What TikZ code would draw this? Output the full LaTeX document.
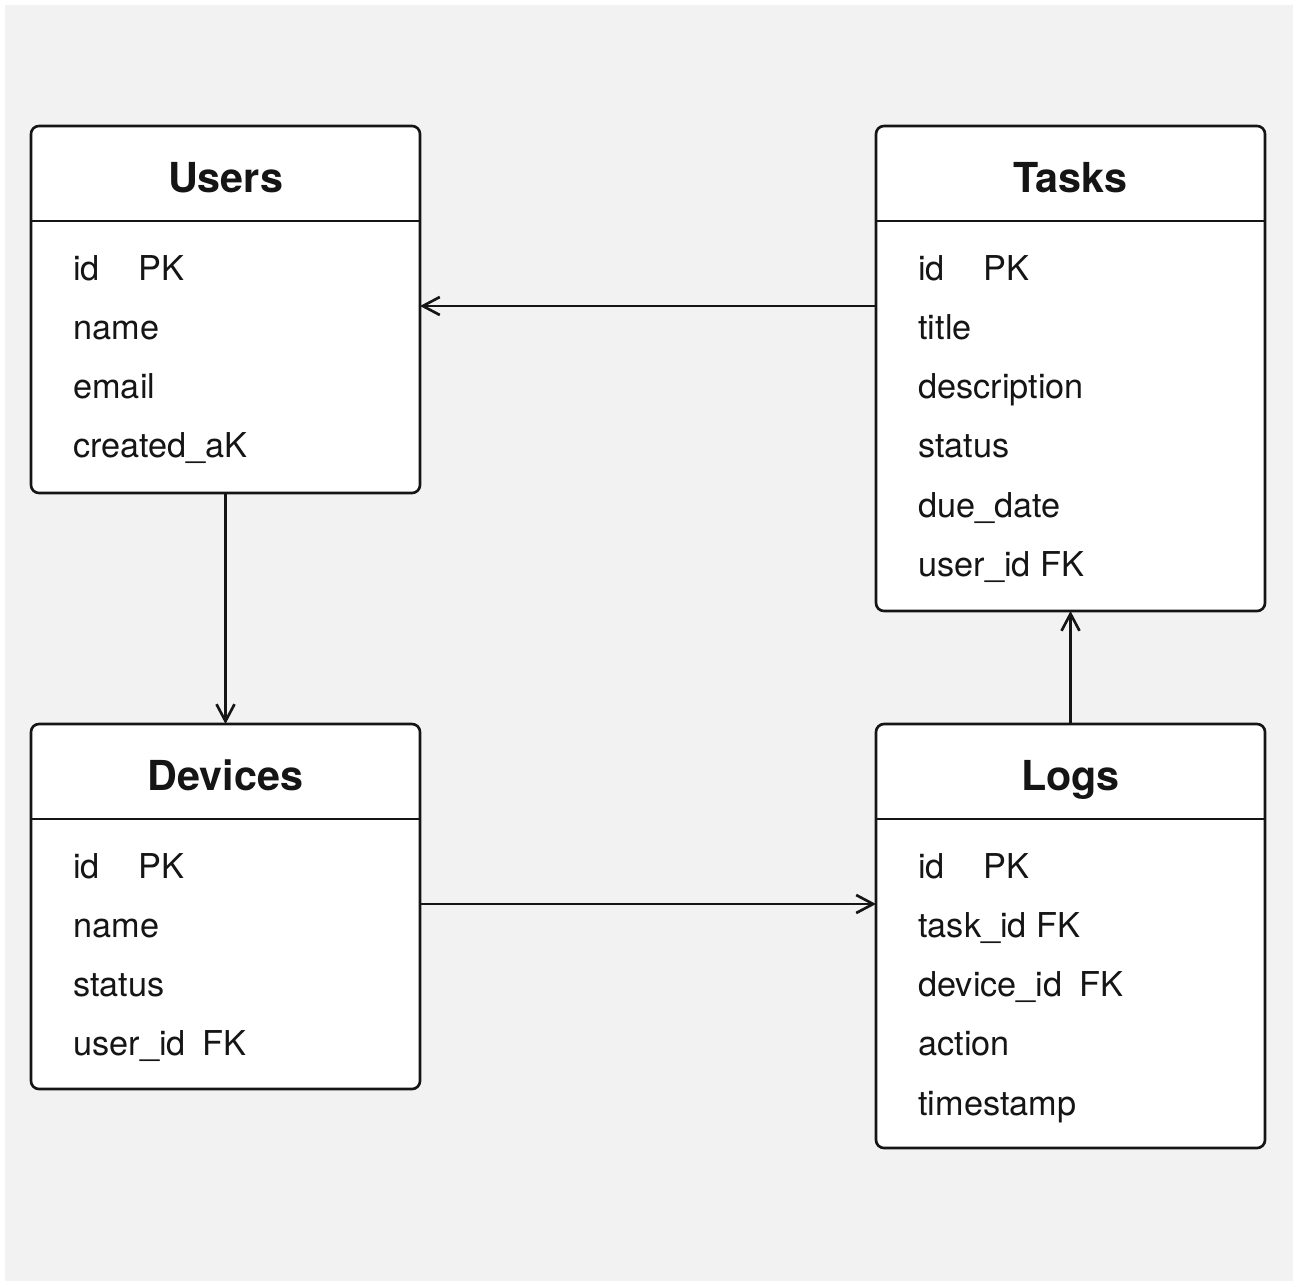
\documentclass[tikz,border=0pt]{standalone}
\usepackage{fontspec}
\setmainfont{TeX Gyre Heros}
\usepackage{tikz}
\usetikzlibrary{arrows.meta,positioning,calc}
\definecolor{inkblack}{HTML}{151515}
\definecolor{paper}{HTML}{F2F2F2}

\begin{document}
\begin{tikzpicture}[
  tbl/.style={draw=inkblack,fill=white,rounded corners=0.16cm,line width=1.5pt,
              minimum width=7.78cm,anchor=north west,inner sep=0pt,outer sep=0pt},
  hd/.style={font=\fontsize{23.5}{28}\selectfont\bfseries,text=inkblack,anchor=base,inner sep=0pt},
  fld/.style={font=\fontsize{19.5}{23}\selectfont,text=inkblack,anchor=base west,inner sep=0pt},
  sep/.style={draw=inkblack,line width=1.5pt},
  ar/.style={-{Straight Barb[length=0.34cm,width=0.36cm]},draw=inkblack,line width=1.5pt}
]
\useasboundingbox (0,0) rectangle (25.96,-25.72);
\fill[white] (0,0) rectangle (25.96,-25.72);
\fill[paper] (0.1,-0.1) rectangle (25.86,-25.62);

\node[tbl,minimum height=7.34cm] (users) at (0.62,-2.52) {};
\node[tbl,minimum height=9.70cm,right=9.12cm of users.north east,anchor=north west] (tasks) {};
\node[tbl,minimum height=7.30cm,below=4.62cm of users.south west,anchor=north west] (devices) {};
\node[tbl,minimum height=8.48cm,right=9.12cm of devices.north east,anchor=north west] (logs) {};

\foreach \t in {users,tasks,devices,logs}
  \draw[sep] ([yshift=-1.9cm]\t.north west) -- ([yshift=-1.9cm]\t.north east);

\node[hd] (users-hd) at ([yshift=-1.32cm]users.north) {Users};
\node[hd] (tasks-hd) at ([yshift=-1.32cm]tasks.north) {Tasks};
\node[hd] (devices-hd) at ([yshift=-1.32cm]devices.north) {Devices};
\node[hd] (logs-hd) at ([yshift=-1.32cm]logs.north) {Logs};

\foreach \f [count=\i from 0] in {\makebox[1.3cm][l]{id}PK,name,email,created\_aK}
  \node[fld] (users-\i) at ([xshift=0.84cm,yshift=-3.08cm-1.186cm*\i]users.north west) {\f};
\foreach \f [count=\i from 0] in {\makebox[1.3cm][l]{id}PK,title,description,status,due\_date,user\_id FK}
  \node[fld] (tasks-\i) at ([xshift=0.84cm,yshift=-3.08cm-1.186cm*\i]tasks.north west) {\f};
\foreach \f [count=\i from 0] in {\makebox[1.3cm][l]{id}PK,name,status,user\_id\enspace FK}
  \node[fld] (devices-\i) at ([xshift=0.84cm,yshift=-3.08cm-1.186cm*\i]devices.north west) {\f};
\foreach \f [count=\i from 0] in {\makebox[1.3cm][l]{id}PK,task\_id FK,device\_id\enspace FK,action,timestamp}
  \node[fld] (logs-\i) at ([xshift=0.84cm,yshift=-3.08cm-1.186cm*\i]logs.north west) {\f};

\draw[ar] ([yshift=-3.6cm]tasks.north west) -- ([yshift=-3.6cm]users.north east);
\draw[ar] (users.south) -- (devices.north);
\draw[ar] ([yshift=-3.6cm]devices.north east) -- ([yshift=-3.6cm]logs.north west);
\draw[ar] (logs.north) -- (tasks.south);
\end{tikzpicture}
\end{document}
